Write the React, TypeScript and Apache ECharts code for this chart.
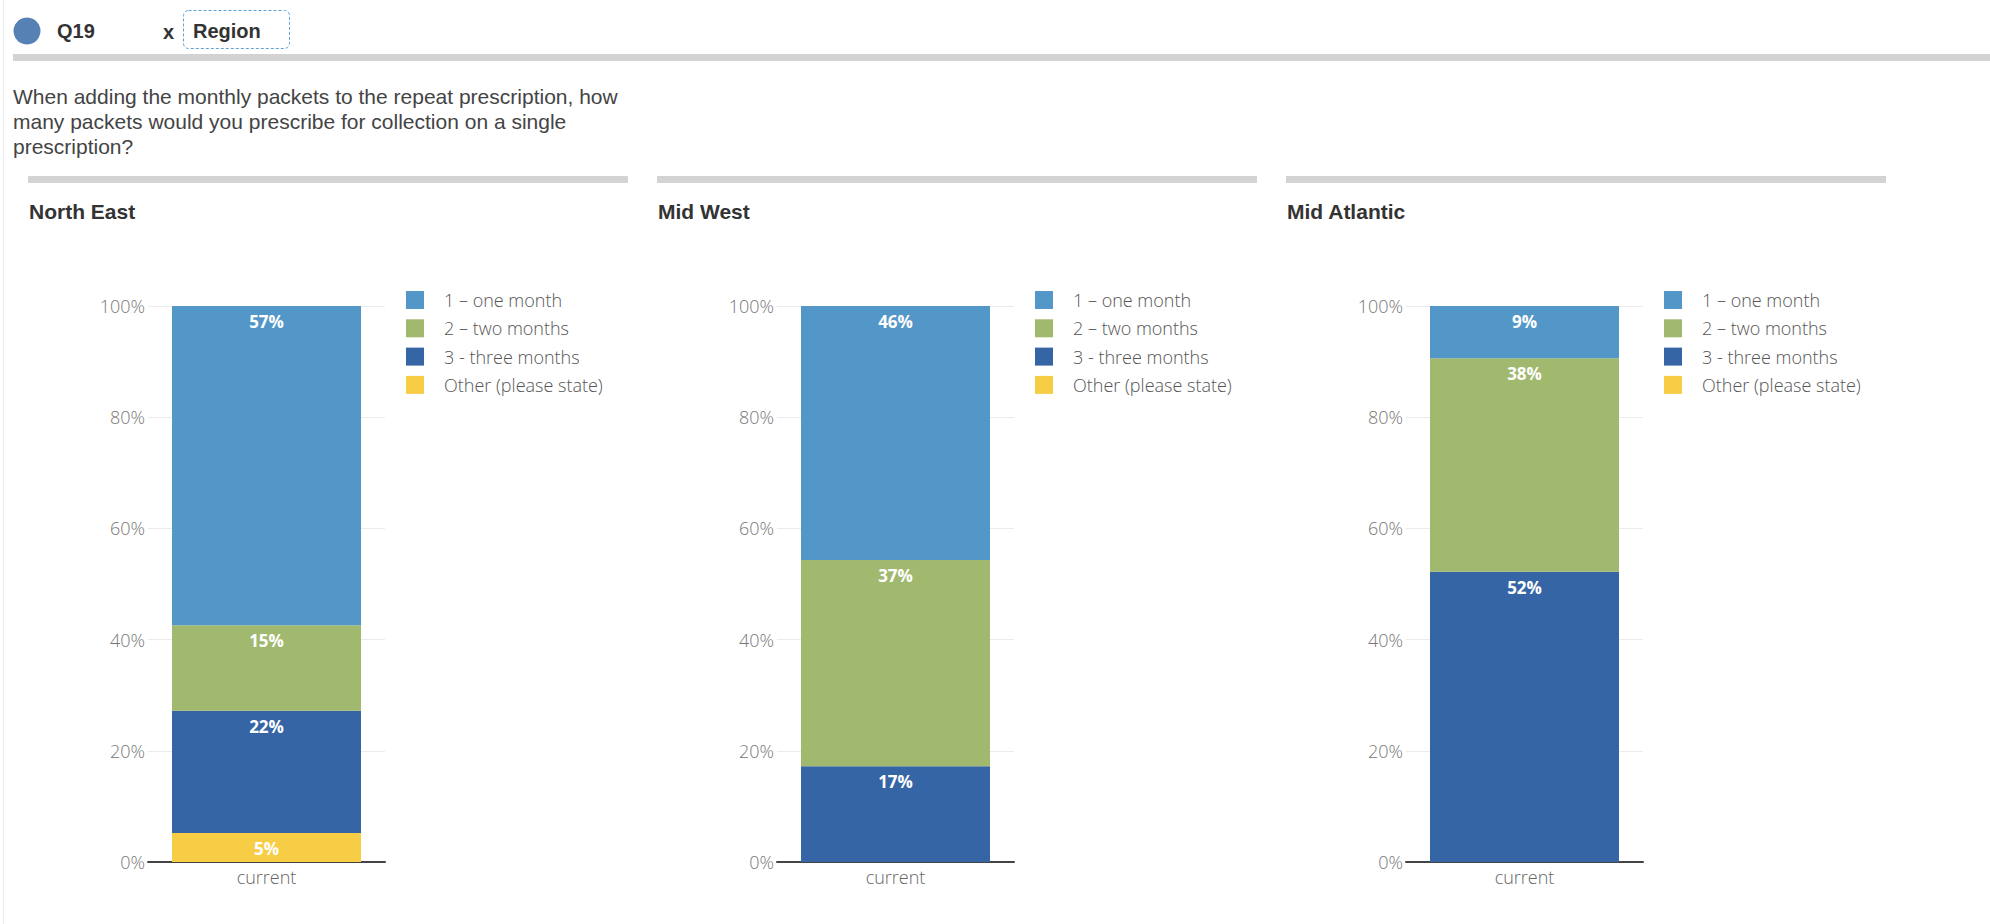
import React, { useEffect, useRef } from "react";
import * as echarts from "echarts";

const regions = ["North East", "Mid West", "Mid Atlantic"];
const answers = ["1 – one month", "2 – two months", "3 - three months", "Other (please state)"];
const categories = ["current"];
const oneMonth = [57.4, 45.7, 9.4];
const twoMonths = [15.4, 37.1, 38.4];
const threeMonths = [22.0, 17.2, 52.2];
const other = [5.2, 0, 0];
const questionLines = [
  "When adding the monthly packets to the repeat prescription, how",
  "many packets would you prescribe for collection on a single",
  "prescription?",
];

const colors: Record<string, string> = {
  "1 – one month": "#5297c8",
  "2 – two months": "#a1b86f",
  "3 - three months": "#3565a5",
  "Other (please state)": "#f7cd46",
};

const PANEL_DX = 629;
const HEAD_FONT = "Liberation Sans, Arial, Helvetica, sans-serif";
const BODY_FONT = "Open Sans, sans-serif";

export default function App() {
  const ref = useRef<HTMLDivElement>(null);
  useEffect(() => {
    document.body.style.margin = "0";
    if (!ref.current) return;
    const chart = echarts.init(ref.current, undefined, { renderer: "svg" });

    const valuesByAnswer: Record<string, number[]> = {
      "1 – one month": oneMonth,
      "2 – two months": twoMonths,
      "3 - three months": threeMonths,
      "Other (please state)": other,
    };
    // stacking order bottom -> top
    const stackOrder = ["Other (please state)", "3 - three months", "2 – two months", "1 – one month"];

    const grids: any[] = [];
    const xAxes: any[] = [];
    const yAxes: any[] = [];
    const legends: any[] = [];
    const series: any[] = [];
    const graphics: any[] = [];

    regions.forEach((region, i) => {
      const dx = PANEL_DX * i;
      grids.push({ left: 148 + dx, top: 306, width: 237, height: 556, containLabel: false });
      xAxes.push({
        type: "category",
        gridIndex: i,
        data: categories,
        axisLine: { lineStyle: { color: "#444", width: 2 } },
        axisTick: { show: false },
        axisLabel: { color: "#666", fontFamily: BODY_FONT, fontWeight: 300, fontSize: 18, margin: 6 },
      });
      yAxes.push({
        type: "value",
        gridIndex: i,
        min: 0,
        max: 100,
        interval: 20,
        axisLine: { show: false },
        axisTick: { show: false },
        splitLine: { lineStyle: { color: "#ebebeb", width: 1 } },
        axisLabel: {
          formatter: "{value}%",
          color: "#777",
          fontFamily: BODY_FONT,
          fontWeight: 300,
          fontSize: 18,
          margin: 3,
        },
      });
      legends.push({
        orient: "vertical",
        left: 401 + dx,
        top: 286,
        itemWidth: 18,
        itemHeight: 18,
        itemGap: 10.3,
        icon: "rect",
        selectedMode: false,
        data: answers,
        textStyle: {
          color: "#555",
          fontFamily: BODY_FONT,
          fontWeight: 300,
          fontSize: 18,
          padding: [0, 0, 0, 15],
        },
      });
      stackOrder.forEach((ans) => {
        series.push({
          type: "bar",
          name: ans,
          xAxisIndex: i,
          yAxisIndex: i,
          stack: "s" + i,
          barWidth: 189,
          data: [valuesByAnswer[ans][i]],
          itemStyle: { color: colors[ans] },
          label: {
            show: true,
            position: "insideTop",
            distance: 7,
            color: "#fff",
            fontFamily: BODY_FONT,
            fontWeight: "bold",
            fontSize: 17,
            formatter: (p: any) => (p.value > 0 ? Math.round(p.value) + "%" : ""),
          },
        });
      });
      graphics.push({
        type: "rect",
        shape: { x: 28 + dx, y: 176, width: 600, height: 7 },
        style: { fill: "#d3d3d3" },
      });
      graphics.push({
        type: "text",
        style: {
          x: 29 + dx,
          y: 211,
          text: region,
          font: `bold 21px ${HEAD_FONT}`,
          fill: "#333",
          verticalAlign: "middle",
        },
      });
    });

    graphics.push(
      { type: "line", shape: { x1: 3.5, y1: 0, x2: 3.5, y2: 924 }, style: { stroke: "#ececec", lineWidth: 1 } },
      { type: "circle", shape: { cx: 27, cy: 31, r: 13.5 }, style: { fill: "#5581b4" } },
      {
        type: "text",
        style: { x: 57, y: 31, text: "Q19", font: `bold 20px ${HEAD_FONT}`, fill: "#333", verticalAlign: "middle" },
      },
      {
        type: "text",
        style: { x: 163, y: 32, text: "x", font: `bold 20px ${HEAD_FONT}`, fill: "#333", verticalAlign: "middle" },
      },
      {
        type: "rect",
        shape: { x: 183.5, y: 10.5, width: 106, height: 38, r: 5 },
        style: { fill: "none", stroke: "#5ea3d3", lineWidth: 1, lineDash: [3, 2] },
      },
      {
        type: "text",
        style: { x: 193, y: 31, text: "Region", font: `bold 20px ${HEAD_FONT}`, fill: "#333", verticalAlign: "middle" },
      },
      { type: "rect", shape: { x: 13, y: 54, width: 1977, height: 7 }, style: { fill: "#d3d3d3" } },
      {
        type: "text",
        style: {
          x: 13,
          y: 84,
          text: questionLines.join("\n"),
          font: `21px ${HEAD_FONT}`,
          lineHeight: 25,
          fill: "#444",
          verticalAlign: "top",
        },
      }
    );

    chart.setOption({
      animation: false,
      backgroundColor: "#fff",
      grid: grids,
      xAxis: xAxes,
      yAxis: yAxes,
      legend: legends,
      series,
      graphic: graphics,
    });
    return () => chart.dispose();
  }, []);
  return <div ref={ref} style={{ width: 1990, height: 924 }} />;
}
